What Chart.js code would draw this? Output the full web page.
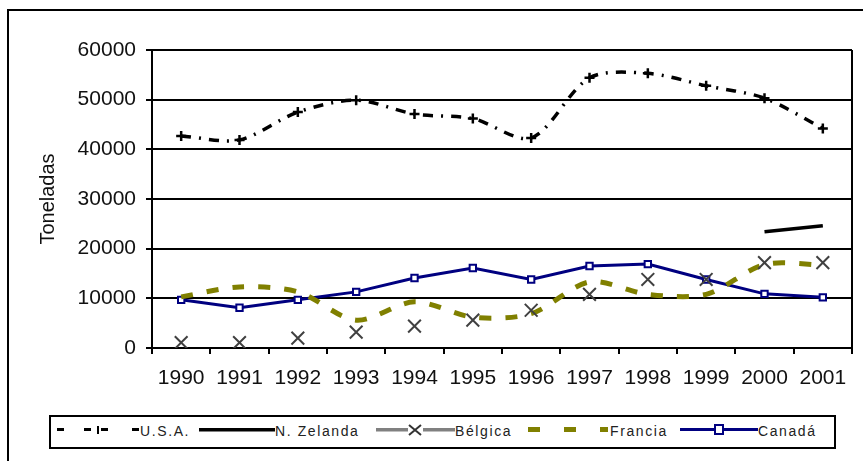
<!DOCTYPE html>
<html>
<head>
<meta charset="utf-8">
<script src="https://cdn.jsdelivr.net/npm/chart.js@4/dist/chart.umd.min.js"></script>
<style>
  body { margin: 0; background: #fff; font-family: "Liberation Sans", Arial, sans-serif; }
  #wrap { position: relative; width: 863px; height: 461px; overflow: hidden; }
  #frame { position: absolute; left: 7px; top: 9px; width: 900px; height: 500px; border: 2px solid #000; box-sizing: border-box; }
  #canvas-1 { position: absolute; left: 0; top: 0; }
  #legend { position: absolute; left: 49px; top: 415px; width: 787px; height: 34px; border: 2px solid #000; box-sizing: border-box; background: #fff; }
  #legend .lbl { position: absolute; top: 6px; font-size: 14px; letter-spacing: 1.6px; color: #222; white-space: nowrap; }
  #legend svg { position: absolute; top: 9px; }
</style>
</head>
<body>
<div id="wrap">
  <div id="frame"></div>
  <canvas id="canvas-1" width="863" height="461"></canvas>
  <div id="legend"></div>
</div>
<script>
const years = ["1990", "1991", "1992", "1993", "1994", "1995", "1996", "1997", "1998", "1999", "2000", "2001"];
const usa = [42700, 41900, 47500, 49900, 47100, 46200, 42300, 54400, 55300, 52800, 50300, 44200];
const nZelanda = [null, null, null, null, null, null, null, null, null, null, 23400, 24600];
const belgica = [1100, 1100, 2000, 3200, 4400, 5600, 7600, 10800, 13800, 13800, 17200, 17200];
const francia = [10300, 12300, 11300, 5600, 9300, 6200, 6900, 13300, 10800, 10800, 16800, 16700];
const canada = [9700, 8100, 9700, 11300, 14100, 16100, 13800, 16500, 16900, 13800, 10900, 10200];
const yTicks = [0, 10000, 20000, 30000, 40000, 50000, 60000];

const tickFont = { family: "'Liberation Sans', Arial, sans-serif", size: 21 };
const titleFont = { family: "'Liberation Sans', Arial, sans-serif", size: 20 };

const plotFrame = {
  id: "plotFrame",
  afterDraw(chart) {
    const { ctx, chartArea } = chart;
    ctx.save();
    ctx.strokeStyle = "#000";
    ctx.lineWidth = 2;
    ctx.beginPath();
    ctx.moveTo(Math.round(chartArea.right), chartArea.top);
    ctx.lineTo(Math.round(chartArea.right), chartArea.bottom);
    ctx.stroke();
    ctx.restore();
  },
};

const chart = new Chart(document.getElementById("canvas-1"), {
  type: "line",
  data: {
    labels: years,
    datasets: [
      {
        label: "U.S.A.",
        data: usa,
        borderColor: "#000",
        borderWidth: 3.5,
        borderDash: [10, 8, 2, 8],
        tension: 0.3,
        pointStyle: "cross",
        pointRadius: 5,
        pointBorderWidth: 2.5,
        pointBorderColor: "#000",
      },
      {
        label: "N. Zelanda",
        data: nZelanda,
        borderColor: "#000",
        borderWidth: 3.5,
        pointRadius: 0,
      },
      {
        label: "Bélgica",
        data: belgica,
        showLine: false,
        pointStyle: "crossRot",
        pointRadius: 9,
        pointBorderWidth: 2,
        pointBorderColor: "#404040",
        borderColor: "#808080",
      },
      {
        label: "Francia",
        data: francia,
        borderColor: "#808000",
        borderWidth: 5,
        borderDash: [12, 14],
        tension: 0.3,
        pointRadius: 0,
      },
      {
        label: "Canadá",
        data: canada,
        borderColor: "#000080",
        borderWidth: 3,
        tension: 0,
        pointStyle: "rect",
        pointRadius: 4.5,
        pointBorderWidth: 2,
        pointBorderColor: "#000080",
        pointBackgroundColor: "#fff",
      },
    ],
  },
  options: {
    responsive: false,
    animation: false,
    layout: { padding: { left: 32, top: 50, right: 7, bottom: 68 } },
    plugins: { legend: { display: false }, tooltip: { enabled: false } },
    scales: {
      x: {
        offset: true,
        afterFit: (scale) => { scale.height = 45; },
        grid: { offset: true, drawOnChartArea: false, drawTicks: true, tickLength: 6, color: "#000", lineWidth: 2 },
        border: { display: true, color: "#000", width: 2 },
        ticks: { color: "#111", font: tickFont, padding: 12, maxRotation: 0 },
      },
      y: {
        min: 0,
        max: 60000,
        afterFit: (scale) => { scale.width = 120; },
        afterBuildTicks: (scale) => { scale.ticks = yTicks.map((v) => ({ value: v })); },
        grid: { color: "#000", lineWidth: 2, drawTicks: true, tickLength: 6 },
        border: { display: true, color: "#000", width: 2 },
        ticks: { color: "#111", font: tickFont, padding: 10, callback: (v) => String(v) },
        title: { display: true, text: "Toneladas", color: "#111", font: titleFont, padding: 4 },
      },
    },
  },
  plugins: [plotFrame],
});

// legend drawn as html so the line samples can look like the original
const legendItems = [
  { text: "U.S.A.", sample: 6, label: 89,
    svg: '<rect x="0" y="2" width="7" height="3"/><rect x="27" y="2" width="7" height="3"/><rect x="40" y="0" width="2" height="8"/><rect x="44" y="2" width="7" height="3"/><rect x="75" y="2" width="7" height="3"/>' },
  { text: "N. Zelanda", sample: 148, label: 224,
    svg: '<rect x="0" y="2" width="76" height="3.5"/>' },
  { text: "Bélgica", sample: 325, label: 404,
    svg: '<rect x="0" y="2" width="32" height="3.5" fill="#808080"/><rect x="47" y="2" width="32" height="3.5" fill="#808080"/><path d="M33 -1 L45 9 M45 -1 L33 9" stroke="#333" stroke-width="2"/>' },
  { text: "Francia", sample: 477, label: 559,
    svg: '<rect x="0" y="1" width="12" height="5" fill="#808000"/><rect x="36" y="1" width="12" height="5" fill="#808000"/><rect x="72" y="1" width="8" height="5" fill="#808000"/>' },
  { text: "Canadá", sample: 629, label: 707,
    svg: '<rect x="0" y="2" width="78" height="3" fill="#000080"/><rect x="35" y="-1" width="8" height="9" fill="#fff" stroke="#000080" stroke-width="2"/>' },
];
const legendEl = document.getElementById("legend");
legendItems.forEach((it) => {
  legendEl.insertAdjacentHTML("beforeend",
    '<svg width="82" height="10" style="left:' + it.sample + 'px;overflow:visible">' + it.svg + "</svg>" +
    '<span class="lbl" style="left:' + it.label + 'px">' + it.text + "</span>");
});
</script>
</body>
</html>
